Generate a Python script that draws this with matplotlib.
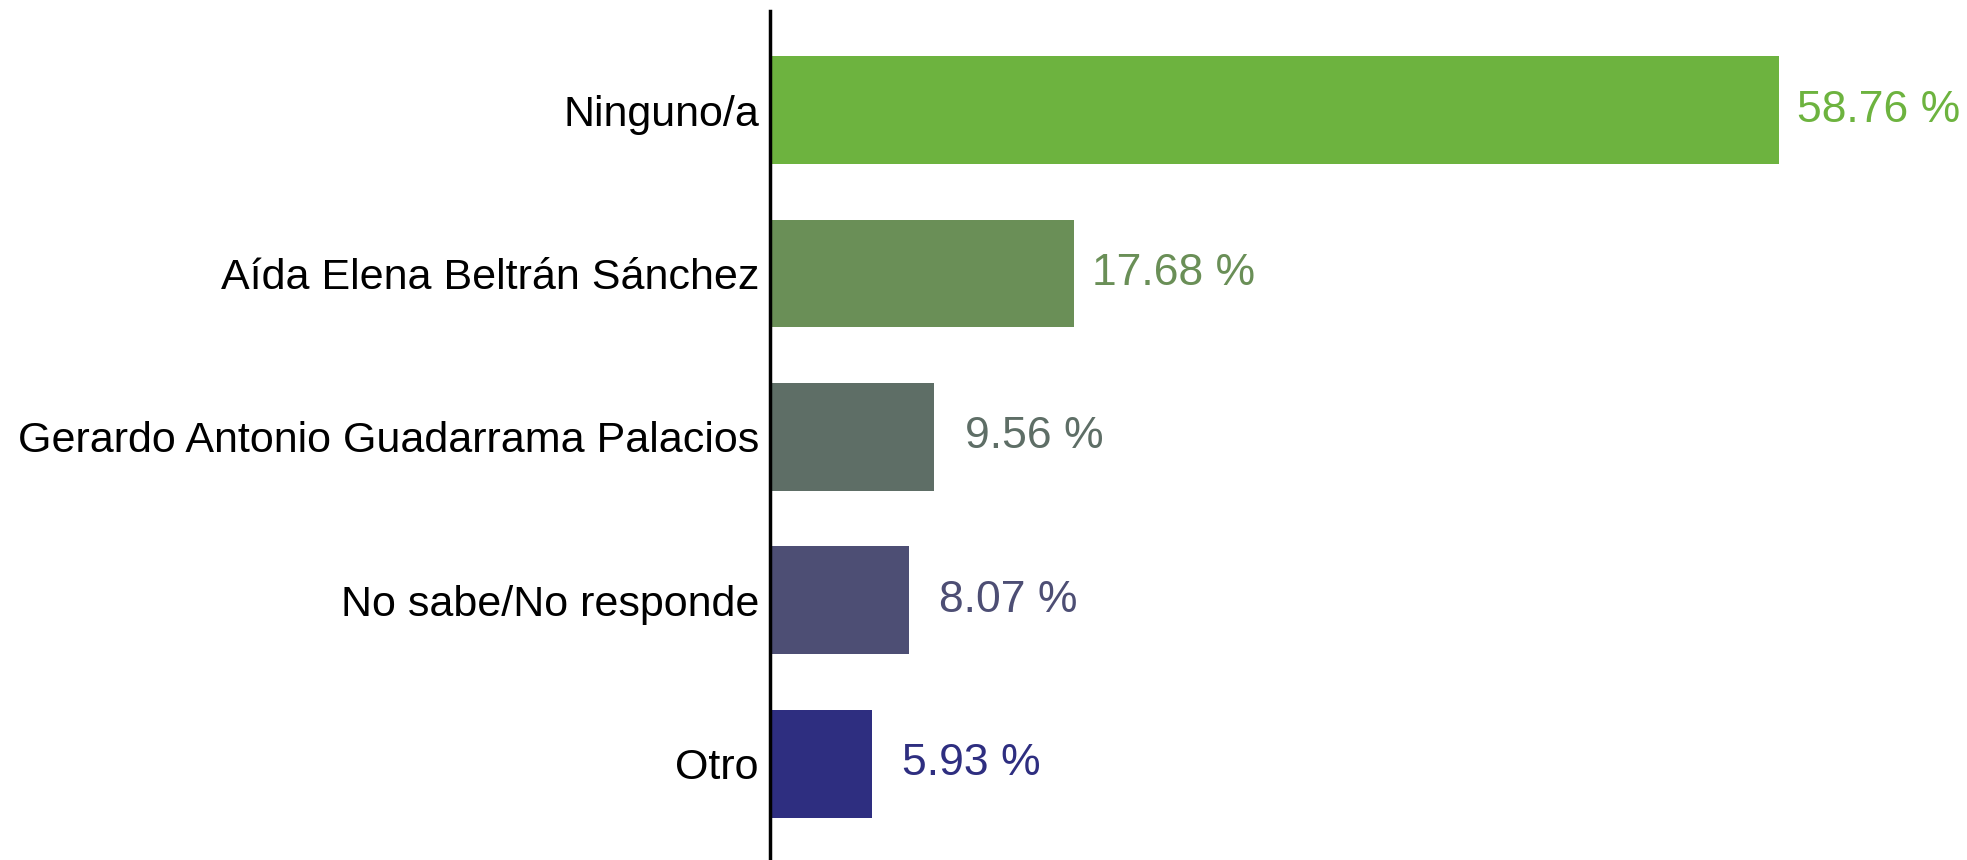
import matplotlib
matplotlib.use("Agg")
import matplotlib.pyplot as plt

# Data
categories = ["Otro", "No sabe/No responde", "Gerardo Antonio Guadarrama Palacios",
              "Aída Elena Beltrán Sánchez", "Ninguno/a"]
values = [5.93, 8.07, 9.56, 17.68, 58.76]
colors = ["#2E2E80", "#4D4E74", "#5E6E66", "#6A8F57", "#6DB33F"]

plt.rcParams['font.family'] = ['Liberation Sans', 'DejaVu Sans']

fig = plt.figure(figsize=(19.67, 8.6), dpi=100)
ax = fig.add_axes([0.3915, 0.0, 0.6085, 0.987])

y = range(len(categories))
ax.barh(y, values, height=0.66, color=colors)

for yi, v, c in zip(y, values, colors):
    ax.text(v + 5.8, yi, f"{v:.2f} %", color=c, fontsize=32,
            ha='center', va='center')

ax.set_yticks(list(y))
ax.set_yticklabels(categories, fontsize=31)
ax.tick_params(axis='y', length=0, pad=8)
ax.set_xticks([])
ax.set_xlim(0, 69.7)
ax.set_ylim(-0.59, 4.606)

for side in ['top', 'right', 'bottom']:
    ax.spines[side].set_visible(False)
ax.spines['left'].set_linewidth(2.5)

fig.savefig("out.png", dpi=100)
